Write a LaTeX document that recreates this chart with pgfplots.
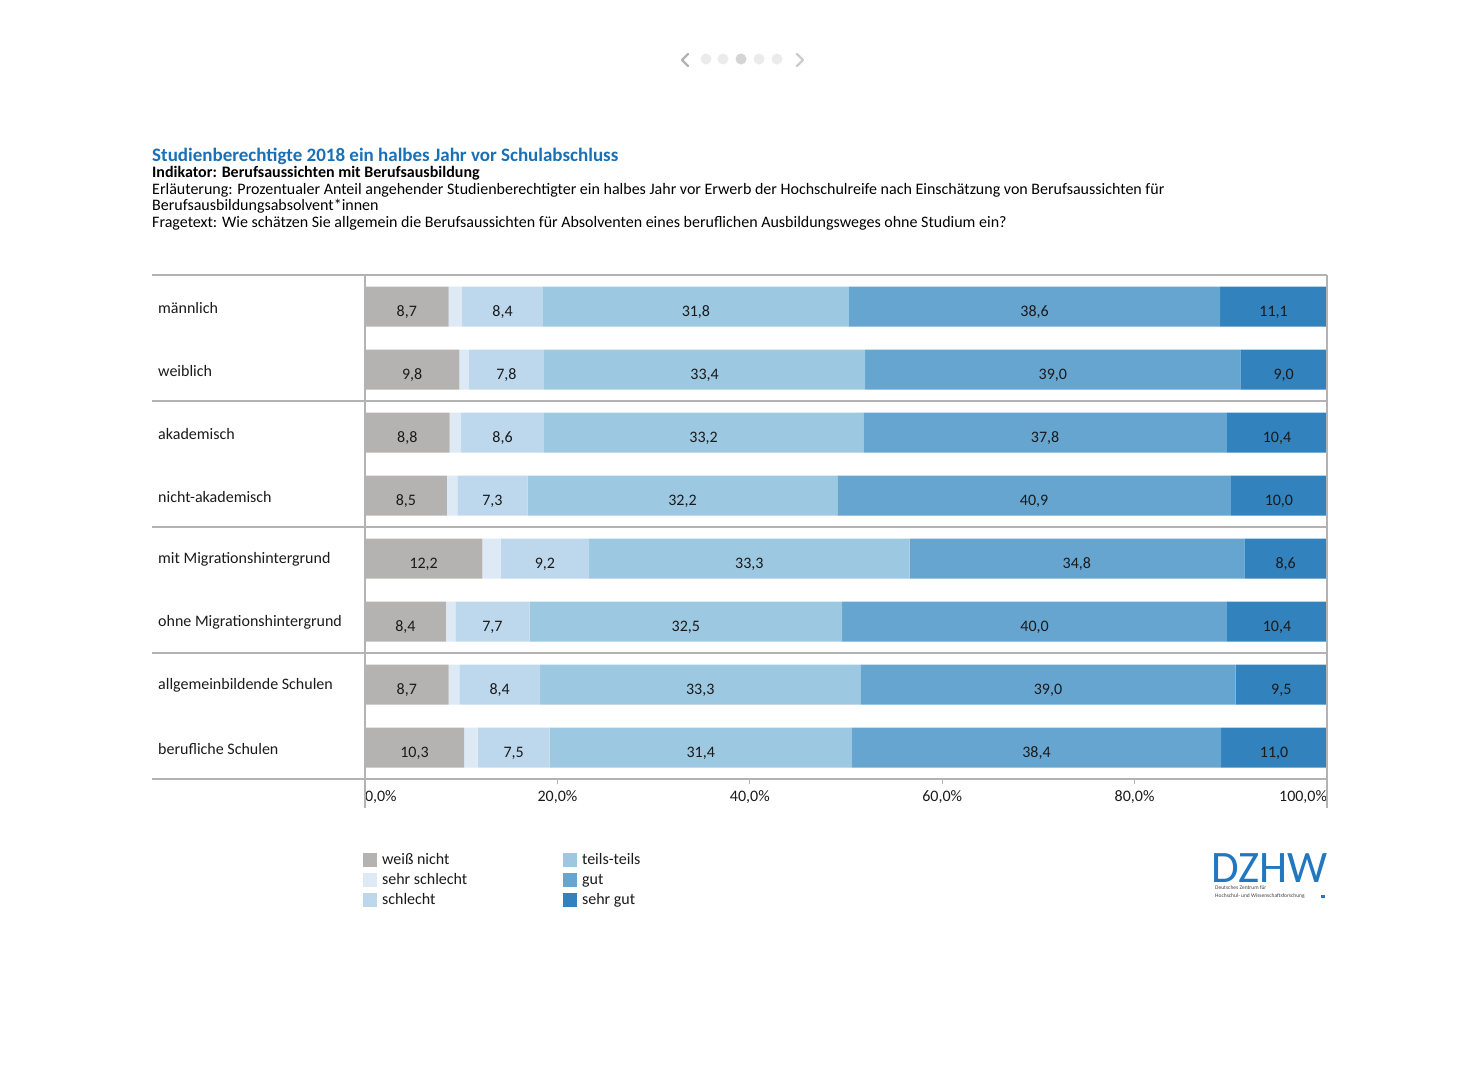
\documentclass[border=0pt]{standalone}
\usepackage{fontspec}
\setmainfont{Carlito}
\usepackage{pgfplots}
\usepackage{pgfplotstable}
\pgfplotsset{compat=1.18}
\definecolor{cwn}{HTML}{B4B3B1}
\definecolor{css}{HTML}{DDE9F5}
\definecolor{csc}{HTML}{BDD7EC}
\definecolor{ctt}{HTML}{9DC8E1}
\definecolor{cgu}{HTML}{66A5D0}
\definecolor{csg}{HTML}{3282BE}
\definecolor{ctitle}{HTML}{1A6FB5}
\definecolor{clogo}{HTML}{2178C0}
\definecolor{cline}{HTML}{B3B3B3}
\definecolor{ctxt}{HTML}{1A1A1A}
\pgfplotstableread{
row wn ss sc tt gu sg
0 8.7 1.4 8.4 31.8 38.6 11.1
1 9.8 1.0 7.8 33.4 39.0 9.0
2 8.8 1.2 8.6 33.2 37.8 10.4
3 8.5 1.1 7.3 32.2 40.9 10.0
4 12.2 1.9 9.2 33.3 34.8 8.6
5 8.4 1.0 7.7 32.5 40.0 10.4
6 8.7 1.1 8.4 33.3 39.0 9.5
7 10.3 1.4 7.5 31.4 38.4 11.0
}\data
\pgfplotsset{
 sqlegend/.style={legend image code/.code={\fill[##1,draw=none] (0pt,-7pt) rectangle (14pt,7pt);}},
 lab/.style={point meta=explicit,
   nodes near coords={\pgfmathprintnumber[fixed,fixed zerofill,precision=1,use comma,assume math mode=true]{\pgfplotspointmeta}},
   every node near coord/.append style={font=\fontsize{16}{16}\selectfont, text=ctxt, yshift=-6pt, inner sep=0pt}},
}
\newcommand{\fs}{\fontsize{16}{16}\selectfont}
\begin{document}
\begin{tikzpicture}
\path (0pt,0pt) rectangle (1480pt,-1080pt);
% navigation
\draw[color=black!30, line width=2.2pt, line cap=round, line join=round] (688pt,-54pt) -- (682pt,-60pt) -- (688pt,-66pt);
\draw[color=black!20, line width=2.2pt, line cap=round, line join=round] (797pt,-54pt) -- (803pt,-60pt) -- (797pt,-66pt);
\fill[black!8] (706pt,-59pt) circle (5.5pt);
\fill[black!8] (723pt,-59pt) circle (5.5pt);
\fill[black!17] (741pt,-59pt) circle (5.5pt);
\fill[black!8] (759pt,-59pt) circle (5.5pt);
\fill[black!8] (777pt,-59pt) circle (5.5pt);
% titles
\node[anchor=base west, inner sep=0pt, font=\bfseries\fontsize{19}{19}\selectfont, text=ctitle] at (152pt,-161pt) {Studienberechtigte 2018 ein halbes Jahr vor Schulabschluss};
\node[anchor=base west, inner sep=0pt, font=\bfseries\fs, text=black] at (152pt,-177pt) {Indikator: Berufsaussichten mit Berufsausbildung};
\node[anchor=base west, inner sep=0pt, font=\fs, text=black] at (152pt,-194pt) {Erläuterung: Prozentualer Anteil angehender Studienberechtigter ein halbes Jahr vor Erwerb der Hochschulreife nach Einschätzung von Berufsaussichten für};
\node[anchor=base west, inner sep=0pt, font=\fs, text=black] at (152pt,-210pt) {Berufsausbildungsabsolvent*innen};
\node[anchor=base west, inner sep=0pt, font=\fs, text=black] at (152pt,-227pt) {Fragetext: Wie schätzen Sie allgemein die Berufsaussichten für Absolventen eines beruflichen Ausbildungsweges ohne Studium ein?};
\begin{axis}[
  at={(365pt,-779pt)}, anchor=south west,
  scale only axis, width=962pt, height=504pt,
  xbar stacked, bar width=40pt,
  xmin=0, xmax=100, ymin=-0.5, ymax=7.5, y dir=reverse,
  axis line style={draw=none},
  clip=false,
  ytick={0,...,7},
  yticklabels={männlich,weiblich,akademisch,nicht-akademisch,mit Migrationshintergrund,ohne Migrationshintergrund,allgemeinbildende Schulen,berufliche Schulen},
  yticklabel style={anchor=west, xshift=-202pt, yshift=-1pt, inner sep=0pt, font=\fs, text=ctxt},
  ytick style={draw=none},
  xtick={0,20,40,60,80,100},
  xticklabels={{\rlap{0,0\%}},{20,0\%},{40,0\%},{60,0\%},{80,0\%},{\llap{100,0\%}}},
  xticklabel style={anchor=base, yshift=-17pt, inner sep=0pt, font=\fs, text=ctxt},
  xtick style={draw=cline, line width=1.3pt},
  major tick length=5pt, tick align=outside, tick pos=left,
  legend style={draw=none, fill=none, inner sep=0pt, outer sep=0pt,
    at={(-0.002,-0.147)}, anchor=north west,
    column sep=5pt, row sep=6pt, font=\fs,
    nodes={inner sep=0pt, text height=11pt, text depth=3pt, anchor=west, text=ctxt}},
  legend cell align=left,
  transpose legend, legend columns=3,
]
\addplot+[fill=cwn, draw=none, sqlegend, lab] table[x=wn, y=row, meta=wn] {\data};
\addlegendentry{\makebox[176pt][l]{weiß nicht}}
\addplot+[fill=css, draw=none, sqlegend] table[x=ss, y=row] {\data};
\addlegendentry{\makebox[176pt][l]{sehr schlecht}}
\addplot+[fill=csc, draw=none, sqlegend, lab] table[x=sc, y=row, meta=sc] {\data};
\addlegendentry{\makebox[176pt][l]{schlecht}}
\addplot+[fill=ctt, draw=none, sqlegend, lab] table[x=tt, y=row, meta=tt] {\data};
\addlegendentry{teils-teils}
\addplot+[fill=cgu, draw=none, sqlegend, lab] table[x=gu, y=row, meta=gu] {\data};
\addlegendentry{gut}
\addplot+[fill=csg, draw=none, sqlegend, lab] table[x=sg, y=row, meta=sg] {\data};
\addlegendentry{sehr gut}
\end{axis}
% frame lines
\begin{scope}[cline, line width=1.3pt]
\draw (152pt,-275pt) -- (1327pt,-275pt);
\draw (152pt,-401pt) -- (1327pt,-401pt);
\draw (152pt,-527pt) -- (1327pt,-527pt);
\draw (152pt,-653pt) -- (1327pt,-653pt);
\draw (152pt,-779pt) -- (1327pt,-779pt);
\draw (365pt,-275pt) -- (365pt,-808pt);
\draw (1327pt,-275pt) -- (1327pt,-808pt);
\end{scope}
% logo
\node[anchor=base west, inner sep=0pt, text depth=0pt, font=\fontsize{45}{45}\selectfont, text=clogo] at (1211pt,-882pt) {DZHW};
\node[anchor=north west, inner sep=0pt, align=left, font=\fontsize{5.5}{8}\selectfont, text=black!75] at (1215pt,-885pt) {Deutsches Zentrum für\\Hochschul- und Wissenschaftsforschung};
\fill[clogo] (1321pt,-895pt) rectangle (1325pt,-898pt);
\end{tikzpicture}
\end{document}
